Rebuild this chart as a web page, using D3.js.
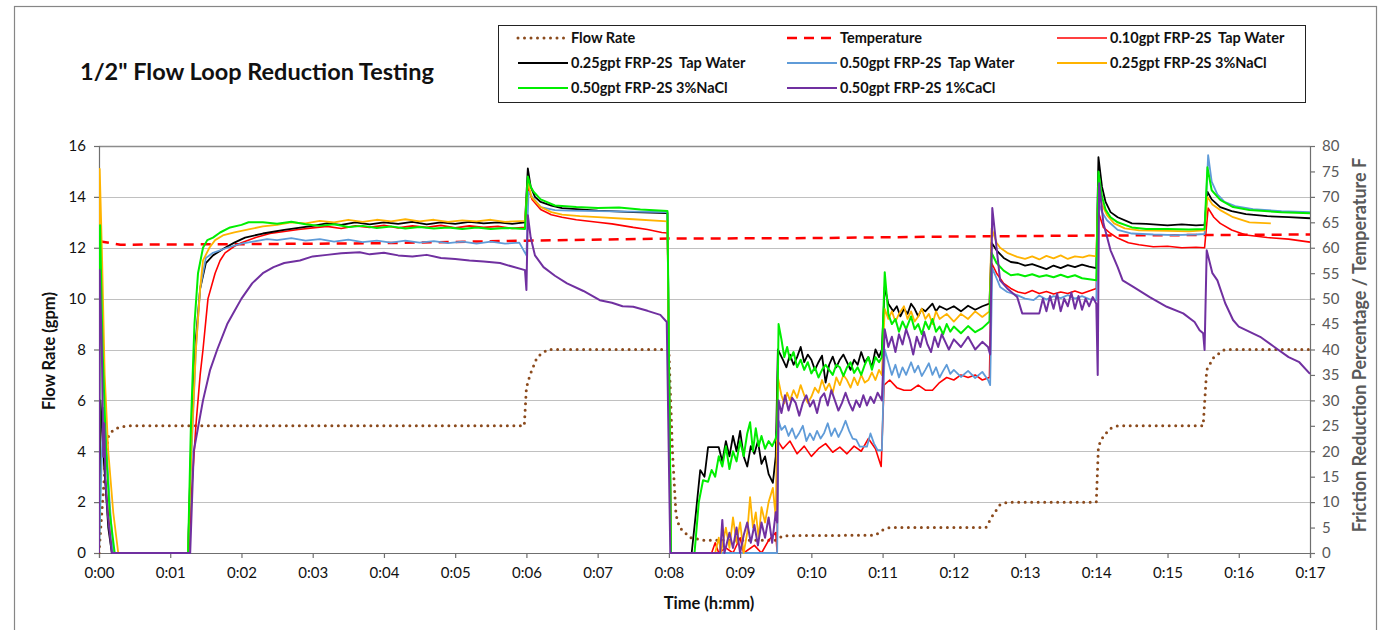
<!DOCTYPE html>
<html>
<head>
  <meta charset="UTF-8">
  <title>Flow Loop Reduction Testing</title>
  <script src="https://d3js.org/d3.v7.min.js"></script>
  <style>
    body { margin:0; background:#fff; }
    text { font-family: Lato, "Open Sans", sans-serif; }
  </style>
</head>
<body>
<svg id="svg" width="1381" height="630"></svg>

<script type="text/javascript">

// time in minutes; flow rate in gpm (left axis); everything else on the right axis

var timeTicks = d3.range(0, 18, 1);
var leftTicks = d3.range(0, 17, 2);
var rightTicks = d3.range(0, 81, 5);

var seriesNames = ["Flow Rate", "Temperature", "0.10gpt FRP-2S  Tap Water",
  "0.25gpt FRP-2S  Tap Water", "0.50gpt FRP-2S  Tap Water", "0.25gpt FRP-2S 3%NaCl",
  "0.50gpt FRP-2S 3%NaCl", "0.50gpt FRP-2S 1%CaCl"];

var flowRate = [[0,0],[0.05,2],[0.1,4],[0.13,4.57],[0.2,4.85],[0.3,4.95],[0.4,5],[5.97,5],[6.0,6.5],
  [6.05,7.0],[6.15,7.7],[6.3,8],[8.0,8],[8.05,4],[8.1,1.5],[8.15,1.0],[8.3,0.6],[8.5,0.5],[9.5,0.5],
  [9.6,0.68],[10.9,0.7],[11.0,0.9],[11.1,1.0],[12.45,1.0],[12.55,1.5],[12.65,1.9],[12.75,2.0],[14.0,2.0],
  [14.03,4.2],[14.1,4.6],[14.2,4.9],[14.3,5],[15.5,5],[15.55,7.2],[15.65,7.7],[15.8,8.0],[17,8]];

var temperature = [[0,61.3],[0.3,60.6],[2,60.7],[4,60.9],[6,61.4],[8,61.8],[10,61.9],[12,62.2],[14,62.4],[17,62.6]];

var fr010Tap = [[0,0],[0.02,28],[0.06,20],[0.1,12],[0.16,3],[0.2,0],[1.26,0],[1.3,12],[1.36,25],[1.42,35],
  [1.46,40],[1.53,50],[1.63,55],[1.7,57.5],[1.77,59],[1.9,60.3],[2.0,61],[2.2,62],[2.4,62.8],[2.6,63.2],
  [2.8,63.6],[3.0,63.9],[3.2,64.2],[3.4,63.8],[3.6,64.3],[3.8,64],[4.0,64.4],[4.2,63.9],[4.4,64.3],[4.6,64],
  [4.8,64.4],[5.0,63.9],[5.2,64.3],[5.4,64],[5.6,64.2],[5.8,63.8],[5.98,64],[6.02,72],[6.08,69.5],[6.2,67.5],
  [6.35,66.5],[6.5,66],[6.7,65.5],[7.0,65],[7.2,64.7],[7.5,64],[7.7,63.6],[7.9,63],[7.98,62.9],[8.03,0],
  [8.6,0],[8.65,2],[8.7,0],[8.8,1],[8.9,0],[9.0,3],[9.05,0],[9.2,1.5],[9.3,0],[9.4,2.5],[9.5,4],[9.52,0],
  [9.53,22],[9.6,20.5],[9.7,22],[9.8,19.5],[9.9,21],[10.0,19],[10.1,20.5],[10.2,21.5],[10.3,19.8],
  [10.4,20.8],[10.5,19.5],[10.6,21],[10.7,20],[10.8,22.5],[10.9,20.5],[10.98,17],[11.02,33],[11.1,34],
  [11.2,32.5],[11.3,32],[11.4,32],[11.5,33],[11.6,32],[11.7,32],[11.8,33.5],[11.9,34.5],[12.0,34],
  [12.1,35],[12.2,34.5],[12.3,35],[12.4,34],[12.5,34.5],[12.53,57],[12.6,55],[12.7,53],[12.8,52],
  [12.9,51.3],[13.0,51],[13.1,51.6],[13.2,51],[13.3,51.4],[13.4,50.9],[13.5,51.3],[13.6,51],[13.7,51.5],
  [13.8,51],[13.9,51.5],[14.0,52],[14.03,67],[14.1,64],[14.2,62.8],[14.3,61.9],[14.45,61],[14.6,60.6],
  [14.8,60.2],[15.0,60.3],[15.2,60],[15.4,60.1],[15.52,60],[15.57,67.8],[15.65,66],[15.74,64.8],
  [15.9,63.5],[16.1,62.5],[16.4,62],[16.7,61.7],[17,61.1]];

var fr025Tap = [[0,0],[0.02,30],[0.07,18],[0.13,5],[0.18,0],[1.25,0],[1.3,25],[1.36,42],[1.42,52],[1.5,57],
  [1.6,58.5],[1.77,60],[1.9,61],[2.05,62],[2.3,62.8],[2.6,63.5],[2.8,63.9],[3.0,64.3],[3.2,64.8],[3.4,64.5],
  [3.6,65],[3.8,64.6],[4.0,65],[4.2,64.7],[4.4,65.1],[4.6,64.6],[4.8,65],[5.0,64.7],[5.2,65.1],[5.4,64.8],
  [5.6,65],[5.8,64.7],[5.98,65],[6.02,75.6],[6.06,72],[6.12,70],[6.2,69],[6.35,68.3],[6.5,67.8],[7.0,67.3],
  [7.5,67],[7.98,66.8],[8.03,0],[8.32,0],[8.38,8],[8.44,16.3],[8.5,15],[8.55,20.8],[8.7,20.8],[8.75,18],
  [8.8,22],[8.85,19],[8.9,23],[8.95,20],[9.0,24],[9.05,19],[9.1,17],[9.15,21],[9.2,19.5],[9.25,22],
  [9.3,17.5],[9.35,19],[9.4,15.5],[9.46,13.8],[9.5,19],[9.53,40],[9.6,38],[9.65,36.5],[9.7,39],[9.75,37],
  [9.8,38.5],[9.85,40.5],[9.9,37.5],[9.95,39],[10.0,38],[10.05,36],[10.1,37.5],[10.15,38.8],[10.2,33.5],
  [10.25,37],[10.3,38.6],[10.35,36.5],[10.4,38],[10.45,39],[10.5,37.5],[10.55,36],[10.6,38],[10.65,37],
  [10.7,39.5],[10.75,37.5],[10.8,38.5],[10.85,36.5],[10.9,40],[10.95,38.5],[10.99,40],[11.03,52.3],
  [11.08,49],[11.15,47.5],[11.2,48.5],[11.25,46.5],[11.3,48],[11.35,47],[11.4,49],[11.45,48],[11.5,46.5],
  [11.55,48],[11.6,47.5],[11.7,49],[11.75,47.5],[11.8,48.5],[11.9,47.8],[12.0,48.5],[12.1,47.5],[12.2,48.6],
  [12.3,47.8],[12.4,48.5],[12.5,49],[12.53,61],[12.6,59.5],[12.7,58],[12.8,57.2],[12.9,57],[13.0,56.5],
  [13.1,56.8],[13.2,56.3],[13.3,55.8],[13.4,56.5],[13.5,56],[13.6,56.6],[13.7,56.2],[13.8,56.7],[13.9,56.3],
  [14.0,56],[14.03,77.8],[14.08,72],[14.13,69],[14.2,67],[14.3,66],[14.5,64.8],[14.7,64.7],[15.0,64.4],
  [15.2,64.6],[15.4,64.4],[15.52,64.5],[15.56,71],[15.62,69.5],[15.74,68],[15.9,67.2],[16.1,66.6],
  [16.4,66.2],[16.7,66],[17,65.8]];

var fr050Tap = [[0,0],[0.02,10],[0.06,28.5],[0.1,22],[0.15,10],[0.2,0],[1.25,0],[1.3,20],[1.36,40],[1.42,52],
  [1.5,58],[1.6,59],[1.8,60],[2.0,60.8],[2.2,61.3],[2.36,61.7],[2.5,61.5],[2.7,61.9],[2.9,61.4],[3.1,61.7],
  [3.3,61.2],[3.5,61.6],[3.7,61.1],[3.9,61.4],[4.1,61],[4.3,61.4],[4.5,61],[4.7,61.3],[4.9,60.9],[5.1,61.2],
  [5.3,60.8],[5.5,61.2],[5.7,60.8],[5.9,61],[6.0,58.5],[6.03,71],[6.08,70],[6.2,68],[6.4,67.4],[6.6,67.3],
  [7.0,67.2],[7.5,67.1],[7.98,67],[8.03,0],[9.52,0],[9.54,26],[9.58,24.2],[9.63,25],[9.68,23],[9.73,24.5],
  [9.78,22.5],[9.83,23.6],[9.88,25],[9.93,22],[9.98,23.5],[10.03,22.2],[10.08,24],[10.13,22.5],[10.18,23.6],
  [10.23,25.5],[10.28,23],[10.33,24.5],[10.38,22.8],[10.43,24.2],[10.48,26],[10.53,24],[10.58,22.5],
  [10.63,22.3],[10.68,20.9],[10.78,20.9],[10.83,23.5],[10.88,21.5],[10.93,20.2],[10.99,20.2],[11.03,40],
  [11.08,37.5],[11.13,35],[11.18,37],[11.23,34.5],[11.28,36.5],[11.33,35],[11.4,37.5],[11.45,35.5],
  [11.5,36.8],[11.55,34.8],[11.6,36],[11.65,37.3],[11.7,35],[11.75,36.5],[11.8,34.5],[11.85,35.8],[11.9,37],
  [11.95,35.2],[12.0,36],[12.1,34.6],[12.2,35.8],[12.3,34.4],[12.4,35.6],[12.48,34],[12.51,33],[12.54,56],
  [12.6,54],[12.65,52.3],[12.75,51.3],[12.89,50.7],[13.0,50],[13.12,49.7],[13.2,50.6],[13.3,49.8],
  [13.4,50.5],[13.5,50.1],[13.6,50.7],[13.7,50],[13.8,50.5],[13.9,49.9],[14.0,49.7],[14.03,69],[14.08,67],
  [14.15,65.4],[14.3,63.5],[14.5,62.8],[14.8,62.6],[15.1,62.5],[15.4,62.6],[15.52,62.7],[15.57,78.2],
  [15.62,73],[15.7,70.5],[15.8,69],[15.95,68.2],[16.2,67.6],[16.6,67.2],[17,67]];

var fr025NaCl = [[0,0],[0.01,75.5],[0.04,60],[0.08,35],[0.13,20],[0.2,8],[0.27,0],[1.25,0],[1.3,22],[1.36,40],
  [1.42,52],[1.46,57.5],[1.55,60],[1.63,61.5],[1.75,62.5],[1.9,63],[2.1,63.6],[2.3,64.2],[2.5,64.5],[2.7,65],
  [2.9,64.8],[3.1,65.3],[3.3,65],[3.5,65.5],[3.7,65.1],[3.9,65.5],[4.1,65.2],[4.3,65.6],[4.5,65.2],[4.7,65.5],
  [4.9,65.1],[5.1,65.4],[5.3,65.2],[5.5,65.5],[5.7,65.1],[5.98,65.3],[6.02,73],[6.07,70],[6.2,68],[6.35,67],
  [6.5,66.5],[6.75,66.2],[7.0,66],[7.5,65.6],[7.98,65.2],[8.03,0],[8.65,0],[8.7,3],[8.73,0],[8.8,5],[8.85,1],
  [8.9,7],[8.95,2],[9.0,6],[9.05,0],[9.1,4],[9.14,11],[9.18,5],[9.22,8],[9.26,3],[9.3,9],[9.35,6],[9.4,10],
  [9.46,12.8],[9.5,7],[9.53,34.5],[9.58,31],[9.62,29.4],[9.66,31.5],[9.7,30],[9.75,32],[9.8,30.5],[9.85,33],
  [9.9,31],[9.95,29.5],[10.0,30.7],[10.05,32.5],[10.1,31.5],[10.15,34],[10.2,32],[10.25,33.3],[10.3,31.5],
  [10.35,34.5],[10.4,33],[10.45,35],[10.5,34],[10.55,32.5],[10.6,34.5],[10.65,33],[10.7,35],[10.75,33.5],
  [10.8,34],[10.85,35.5],[10.9,34],[10.95,36],[10.99,35],[11.03,48],[11.08,46],[11.13,47.5],[11.18,45.5],
  [11.23,47],[11.3,48.5],[11.35,46],[11.4,47.5],[11.45,45.5],[11.5,46.5],[11.55,48],[11.6,46],[11.65,47],
  [11.7,45],[11.75,47.5],[11.8,46],[11.9,47],[12.0,45.5],[12.1,47],[12.2,46],[12.3,47.5],[12.4,46.4],
  [12.5,47.5],[12.53,63.8],[12.6,61],[12.65,60],[12.75,59],[12.89,58.2],[13.0,57.8],[13.1,58.3],[13.2,57.7],
  [13.3,58.4],[13.4,57.9],[13.5,58.5],[13.6,57.8],[13.7,58.3],[13.81,58.1],[13.9,58.5],[14.0,58.3],
  [14.03,72],[14.08,68.5],[14.15,66.4],[14.25,64.8],[14.4,63.8],[14.6,63.4],[15.0,63.3],[15.3,63.2],
  [15.52,63.4],[15.56,70],[15.63,68.5],[15.74,67.4],[15.92,66],[16.15,65],[16.45,64.8]];

var fr050NaCl = [[0,0],[0.015,64.4],[0.05,40],[0.1,20],[0.15,8],[0.22,0],[1.25,0],[1.29,25],[1.34,45],
  [1.39,55],[1.46,60],[1.52,61.5],[1.6,62],[1.7,63],[1.84,64],[2.0,64.5],[2.1,65],[2.3,65],[2.5,64.7],
  [2.7,65.1],[2.9,64.6],[3.1,64.3],[3.3,64.6],[3.5,64.1],[3.7,64.3],[3.9,63.9],[4.1,64.2],[4.3,63.8],
  [4.5,64.1],[4.7,63.8],[4.9,64],[5.1,63.7],[5.3,64],[5.5,63.7],[5.7,63.9],[5.98,63.7],[6.02,74],[6.06,72],
  [6.1,71],[6.2,69.5],[6.4,68.3],[6.7,68],[7.0,67.8],[7.3,67.9],[7.6,67.5],[7.98,67.2],[8.03,0],[8.36,0],
  [8.42,10],[8.48,14.3],[8.55,14],[8.6,16.3],[8.65,15],[8.7,19],[8.75,17],[8.8,21],[8.85,16.5],[8.9,20],
  [8.95,18],[9.0,22],[9.05,19],[9.1,23.5],[9.14,25.7],[9.18,20],[9.22,24.5],[9.26,21],[9.3,23],[9.35,20.5],
  [9.4,22],[9.45,21],[9.5,22.5],[9.52,24],[9.54,45],[9.58,42],[9.62,38.5],[9.66,40.5],[9.7,38],[9.75,39.5],
  [9.8,36.5],[9.85,38],[9.9,36],[9.95,37.5],[10.0,35.3],[10.05,36.5],[10.1,34.5],[10.15,36],[10.2,37],
  [10.25,36],[10.3,35],[10.35,37],[10.4,36.5],[10.45,34.8],[10.5,36.5],[10.55,37.5],[10.6,35.4],[10.65,36.5],
  [10.7,35],[10.75,37],[10.8,38.5],[10.85,36],[10.9,38.5],[10.95,37.5],[10.99,38.5],[11.03,55.2],[11.08,47],
  [11.13,45],[11.18,46],[11.23,43.5],[11.28,45.5],[11.33,44],[11.4,46.5],[11.45,44],[11.5,45],[11.55,43],
  [11.6,45.5],[11.65,44],[11.7,46],[11.75,43.5],[11.8,44.5],[11.85,43],[11.9,45],[11.95,43.5],[12.0,44.5],
  [12.1,43.2],[12.2,44.6],[12.3,43.4],[12.4,44.2],[12.5,45.5],[12.53,59],[12.6,57],[12.7,55.5],[12.8,54.6],
  [12.9,54.8],[13.0,54.4],[13.1,54.8],[13.2,54.3],[13.3,54.6],[13.4,54.2],[13.5,54.7],[13.6,54.2],[13.7,54.6],
  [13.8,54],[13.9,53.8],[14.0,53.6],[14.03,75],[14.08,70],[14.13,67.5],[14.2,66],[14.3,65],[14.5,64],
  [14.7,63.7],[15.0,63.7],[15.3,63.6],[15.52,63.7],[15.56,75.8],[15.62,71.3],[15.74,69.4],[15.92,68],
  [16.15,67.4],[16.6,67],[17,66.8]];

var fr050CaCl = [[0,0],[0.01,55.6],[0.04,40],[0.06,18.9],[0.075,25.5],[0.09,14.7],[0.12,8],[0.18,0],[1.28,0],
  [1.33,20],[1.46,30],[1.56,36],[1.66,40],[1.8,45],[1.9,47.5],[2.0,50],[2.15,53],[2.3,55],[2.45,56.2],
  [2.6,57],[2.82,57.5],[3.0,58.3],[3.2,58.6],[3.4,58.9],[3.66,59.1],[3.8,58.7],[4.0,59],[4.2,58.5],[4.4,58.3],
  [4.6,58.6],[4.8,58],[5.0,57.8],[5.2,57.5],[5.4,57.3],[5.63,57],[5.8,56.3],[5.98,55.6],[6.0,51.7],[6.02,66.4],
  [6.06,62],[6.12,58.5],[6.24,56.2],[6.4,54.5],[6.57,53],[6.8,51.5],[7.03,49.7],[7.2,49.2],[7.35,48.5],
  [7.5,48.4],[7.7,47.6],[7.88,46.8],[7.97,45.4],[8.02,0],[8.72,0],[8.75,6.5],[8.78,0],[8.85,4],[8.9,1],
  [8.95,5],[9.0,0],[9.05,3.5],[9.1,6],[9.15,2],[9.2,5.5],[9.25,1.5],[9.3,6],[9.35,3],[9.4,7],[9.45,2],
  [9.5,8],[9.52,6],[9.54,30],[9.58,27.5],[9.63,31],[9.68,28],[9.73,30.5],[9.78,29.5],[9.83,27],[9.88,29.5],
  [9.93,31],[9.98,28.8],[10.03,30],[10.08,27.5],[10.13,30.5],[10.18,31.4],[10.23,29],[10.28,32],[10.33,30],
  [10.38,28],[10.43,29.5],[10.48,31.5],[10.53,29.5],[10.58,28],[10.63,30],[10.68,28.7],[10.73,31],[10.78,29],
  [10.83,30.7],[10.88,29.5],[10.93,31.5],[10.99,30],[11.03,44],[11.08,40.5],[11.13,42.5],[11.18,39.5],
  [11.23,43],[11.28,41],[11.33,44],[11.38,42],[11.43,39],[11.48,42.5],[11.53,40.5],[11.58,43.5],[11.63,41],
  [11.68,39.5],[11.73,42.5],[11.78,40.5],[11.83,43],[11.88,41.5],[11.93,40],[12.0,42],[12.1,40.5],[12.2,42.5],
  [12.3,40],[12.4,41.5],[12.48,40.5],[12.51,39],[12.54,67.8],[12.6,60],[12.65,53.6],[12.75,52],[12.89,50.3],
  [12.96,47.1],[13.2,47.1],[13.25,50],[13.3,47.5],[13.35,50.5],[13.4,48],[13.45,51],[13.5,47.5],[13.55,50],
  [13.6,48.5],[13.65,51.2],[13.7,48],[13.75,50.5],[13.8,47.8],[13.85,50],[13.9,48.5],[13.95,50.3],[14.0,49],
  [14.02,35],[14.04,72.7],[14.1,64.8],[14.2,59.5],[14.3,56.2],[14.37,53.6],[14.52,52.3],[14.75,50.3],
  [14.99,48.4],[15.22,47.1],[15.38,45.4],[15.45,43.8],[15.5,43.2],[15.52,39.9],[15.55,59.5],[15.63,55],
  [15.7,53.6],[15.81,49.1],[15.92,45.8],[16.0,44.5],[16.3,42.5],[16.5,40.5],[16.7,38.5],[16.85,37.5],[17,35.2]];

var svg = d3.select('#svg');

var x = d3.scaleLinear().domain([0, 17]).range([99, 1310]);
var yL = d3.scaleLinear().domain([0, 16]).range([553, 146]);
var yR = d3.scaleLinear().domain([0, 80]).range([553, 146]);

// outer chart border
svg.append('rect').attr('x', 14.5).attr('y', 6.5).attr('width', 1362).attr('height', 650)
  .attr('fill', 'none').attr('stroke', '#868686').attr('stroke-width', 1.2);

// gridlines
svg.append('g').selectAll('line').data(leftTicks.slice(1)).join('line')
  .attr('x1', x(0)).attr('x2', x(17))
  .attr('y1', function(d){ return Math.round(yL(d)) + 0.5; })
  .attr('y2', function(d){ return Math.round(yL(d)) + 0.5; })
  .attr('stroke', function(d){ return d == 16 ? '#8c8c8c' : '#c0c0c0'; })
  .attr('stroke-width', function(d){ return d == 16 ? 1.6 : 1.2; });

// axes
var fmtTime = function(d){ return '0:' + String(d).padStart(2, '0'); };

var gx = svg.append('g').attr('transform', 'translate(0,553)')
  .call(d3.axisBottom(x).tickValues(timeTicks).tickFormat(fmtTime).tickSize(5).tickPadding(9));
var gl = svg.append('g').attr('transform', 'translate(99,0)')
  .call(d3.axisLeft(yL).tickValues(leftTicks).tickSize(5).tickPadding(8));
var gr = svg.append('g').attr('transform', 'translate(1310,0)')
  .call(d3.axisRight(yR).tickValues(rightTicks).tickSize(5).tickPadding(7));

[gx, gl, gr].forEach(function(g){
  g.selectAll('path, line').attr('stroke', '#6f6f6f').attr('stroke-width', 1.2);
  g.selectAll('text').style('font-family', 'Lato, sans-serif').style('font-size', '15px');
});
gx.selectAll('text').attr('fill', '#111');
gl.selectAll('text').attr('fill', '#111');
gr.selectAll('text').attr('fill', '#595959');

// axis titles
svg.append('text').attr('x', 709).attr('y', 609).attr('text-anchor', 'middle')
  .style('font-weight', 'bold').style('font-size', '16.5px').attr('fill', '#111').text('Time (h:mm)');
svg.append('text').attr('transform', 'translate(55,351)rotate(-90)').attr('text-anchor', 'middle')
  .style('font-weight', 'bold').style('font-size', '16.5px').attr('fill', '#111').text('Flow Rate (gpm)');
svg.append('text').attr('transform', 'translate(1366,345)rotate(-90)').attr('text-anchor', 'middle')
  .style('font-weight', 'bold').style('font-size', '18px').attr('fill', '#595959')
  .text('Friction Reduction Percentage / Temperature F');

// title
svg.append('text').attr('x', 80).attr('y', 80)
  .style('font-weight', 'bold').style('font-size', '23.5px').attr('fill', '#111')
  .text('1/2" Flow Loop Reduction Testing');

// series, drawn in legend order
var series = [
  { data: flowRate, y: yL, color: '#8b4a1c', width: 3, dash: '0,6.5', cap: 'round' },
  { data: temperature, y: yR, color: '#ff0000', width: 2.5, dash: '10,7', cap: 'butt' },
  { data: fr010Tap, y: yR, color: '#ff0000', width: 1.6 },
  { data: fr025Tap, y: yR, color: '#000000', width: 1.8 },
  { data: fr050Tap, y: yR, color: '#5f9bd8', width: 1.8 },
  { data: fr025NaCl, y: yR, color: '#ffb300', width: 1.8 },
  { data: fr050NaCl, y: yR, color: '#00ee00', width: 2 },
  { data: fr050CaCl, y: yR, color: '#7030a0', width: 2 }
];

svg.append('clipPath').attr('id', 'plotclip').append('rect')
  .attr('x', 99).attr('y', 130).attr('width', 1212).attr('height', 424);

var plot = svg.append('g').attr('clip-path', 'url(#plotclip)');

series.forEach(function(s){
  var line = d3.line()
    .x(function(d){ return x(d[0]); })
    .y(function(d){ return s.y(d[1]); });
  plot.append('path')
    .attr('d', line(s.data))
    .attr('fill', 'none')
    .attr('stroke', s.color)
    .attr('stroke-width', s.width)
    .attr('stroke-dasharray', s.dash || null)
    .attr('stroke-linecap', s.cap || 'butt')
    .attr('stroke-linejoin', 'round');
});

// legend
var legend = svg.append('g');
legend.append('rect').attr('x', 498.5).attr('y', 25.5).attr('width', 807).attr('height', 77)
  .attr('fill', '#fff').attr('stroke', '#222').attr('stroke-width', 1);

var legCols = [518, 787, 1057];
var legRows = [38, 63, 88];
seriesNames.forEach(function(name, i){
  var s = series[i];
  var cx = legCols[i % 3], cy = legRows[Math.floor(i / 3)];
  legend.append('line').attr('x1', cx).attr('x2', cx + 50).attr('y1', cy).attr('y2', cy)
    .attr('stroke', s.color).attr('stroke-width', s.width)
    .attr('stroke-dasharray', s.dash || null).attr('stroke-linecap', s.cap || 'butt');
  legend.append('text').attr('x', cx + 53).attr('y', cy + 5)
    .style('font-weight', 'bold').style('font-size', '14.5px').style('white-space', 'pre')
    .attr('fill', '#111')
    .text(name);
});

</script>
</body>
</html>
